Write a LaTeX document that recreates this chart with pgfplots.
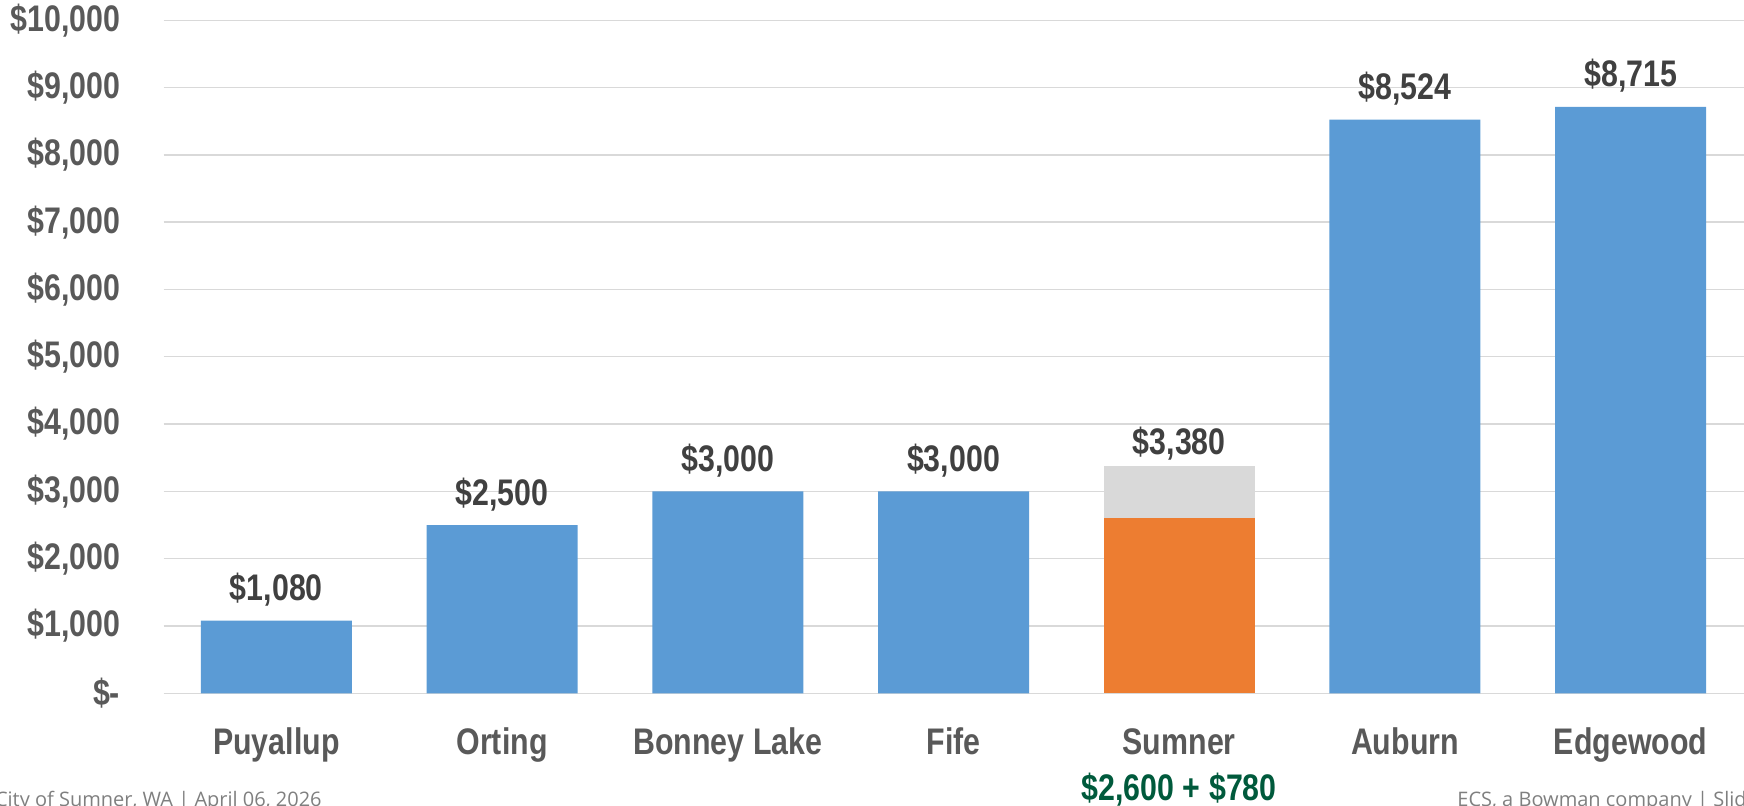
\documentclass[border=0pt]{standalone}
\usepackage{pgfplots}
\pgfplotsset{compat=1.18}
\usepackage{fontspec}
\newfontfamily\narrowfont{Liberation Sans}[FakeStretch=0.82]
\newfontfamily\footfont{Open Sans}
\definecolor{barblue}{HTML}{5B9BD5}
\definecolor{barorange}{HTML}{ED7D31}
\definecolor{bargrey}{HTML}{D9D9D9}
\definecolor{gridgray}{HTML}{D9D9D9}
\definecolor{ticktext}{HTML}{595959}
\definecolor{labeltext}{HTML}{404040}
\definecolor{sumgreen}{HTML}{005A3C}
\definecolor{footgray}{HTML}{7F7F7F}
\begin{document}
\begin{tikzpicture}
\useasboundingbox (0,0) rectangle (872pt,403pt);
\begin{axis}[
  at={(81.75pt,56.35pt)}, anchor=south west,
  scale only axis, width=790pt, height=336.5pt,
  xmin=-0.5, xmax=6.5, ymin=0, ymax=10000,
  axis line style={draw=none}, tick style={draw=none},
  ymajorgrids, major grid style={color=gridgray, line width=0.7pt},
  ytick={0,1000,2000,3000,4000,5000,6000,7000,8000,9000,10000},
  yticklabels={{\$-\hspace{7.5pt}},{\$1,000},{\$2,000},{\$3,000},{\$4,000},{\$5,000},{\$6,000},{\$7,000},{\$8,000},{\$9,000},{\$10,000}},
  xtick={0,1,2,3,4,5,6},
  xticklabels={Puyallup,Orting,Bonney Lake,Fife,Sumner,Auburn,Edgewood},
  tick label style={font=\narrowfont\bfseries\fontsize{18.5pt}{21pt}\selectfont, text=ticktext, inner sep=0pt},
  yticklabel style={anchor=east, xshift=-21.5pt},
  xticklabel style={anchor=base, yshift=-26.5pt},
  clip=false,
  ybar, bar width=75.5pt,
  nodes near coords,
  point meta=explicit symbolic,
  every node near coord/.append style={anchor=base, inner sep=0pt, yshift=10pt,
    font=\narrowfont\bfseries\fontsize{18.5pt}{21pt}\selectfont, text=labeltext},
]
\addplot[fill=barblue, draw=none, bar shift=0pt] coordinates {
  (0,1080) [\$1,080]
  (1,2500) [\$2,500]
  (2,3000) [\$3,000]
  (3,3000) [\$3,000]
  (5,8524) [\$8,524]
  (6,8715) [\$8,715]
};
\addplot[fill=bargrey, draw=none, bar shift=0pt,
  every node near coord/.append style={yshift=-4.5pt}] coordinates {
  (4,3380) [\$3,380]
};
\addplot[fill=barorange, draw=none, bar shift=0pt, nodes near coords={}] coordinates {
  (4,2600) []
};
\node[anchor=base, inner sep=0pt, yshift=-53.8pt,
  font=\narrowfont\bfseries\fontsize{18.5pt}{21pt}\selectfont, text=sumgreen]
  at (axis cs:4,0) {\$2,600 + \$780};
\end{axis}
\node[anchor=base east, inner sep=0pt, font=\footfont\fontsize{10pt}{12pt}\selectfont, text=footgray]
  at (161pt,-0.5pt) {City of Sumner, WA | April 06, 2026};
\node[anchor=base west, inner sep=0pt, font=\footfont\fontsize{10pt}{12pt}\selectfont, text=footgray]
  at (728.5pt,-0.5pt) {ECS, a Bowman company | Slide 10};
\end{tikzpicture}
\end{document}
